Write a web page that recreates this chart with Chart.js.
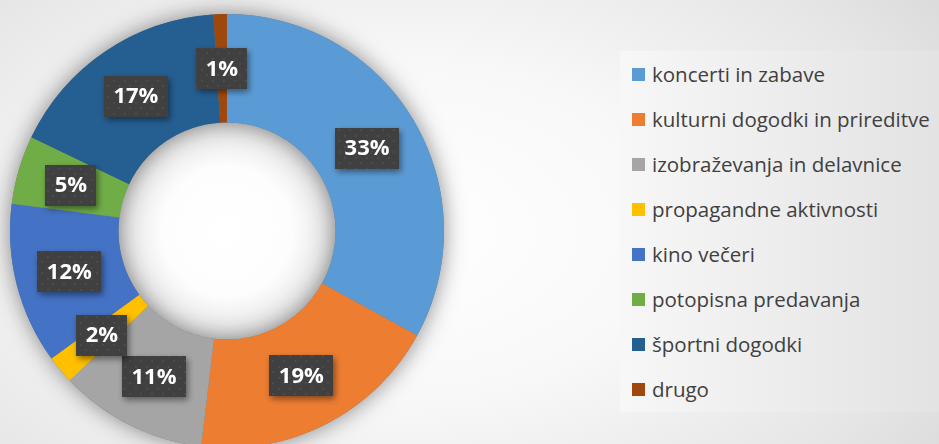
<!DOCTYPE html>
<html>
<head>
<meta charset="utf-8">
<script src="https://cdn.jsdelivr.net/npm/chart.js@4"></script>
<style>
  html, body { margin: 0; padding: 0; }
  body {
    width: 939px; height: 444px; overflow: hidden; position: relative;
    font-family: "Open Sans", sans-serif;
    background: radial-gradient(ellipse 75% 95% at 42% 52%, #ffffff 0%, #f8f8f8 40%, #e6e6e6 78%, #d8d8d8 100%);
  }
  #wrap { position: absolute; left: 0; top: 0; width: 470px; height: 470px; }
  #legend {
    position: absolute; left: 620px; top: 51px; width: 319px; height: 361px;
    background: linear-gradient(90deg, #f7f7f7, #e3e3e3);
  }
  .item {
    position: absolute; left: 12px; height: 28px; display: flex; align-items: center;
    font-size: 20.5px; color: #404040; white-space: nowrap;
  }
  .swatch { width: 13px; height: 13px; margin-right: 7px; flex: none; }
</style>
</head>
<body>
<div id="wrap"><canvas id="donut"></canvas></div>
<div id="legend"></div>
<script>
const categories = [
  'koncerti in zabave',
  'kulturni dogodki in prireditve',
  'izobraževanja in delavnice',
  'propagandne aktivnosti',
  'kino večeri',
  'potopisna predavanja',
  'športni dogodki',
  'drugo'
];
const shares = [33.0, 18.9, 11.0, 2.1, 12.0, 5.1, 16.9, 1.0];
const colors = ['#5B9BD5', '#ED7D31', '#A5A5A5', '#FFC000', '#4472C4', '#70AD47', '#255E91', '#9E480E'];

// legend, built from the same arrays
const legendEl = document.getElementById('legend');
categories.forEach((name, i) => {
  const item = document.createElement('div');
  item.className = 'item';
  item.style.top = (23.3 + 45 * i - 14) + 'px';
  item.innerHTML = '<span class="swatch" style="background:' + colors[i] + '"></span>' + name;
  legendEl.appendChild(item);
});

// dotted dark fill for the value boxes
const patCanvas = document.createElement('canvas');
patCanvas.width = 11; patCanvas.height = 11;
const pctx = patCanvas.getContext('2d');
pctx.fillStyle = '#404040';
pctx.fillRect(0, 0, 11, 11);
pctx.fillStyle = '#4b4b4b';
pctx.fillRect(3, 3, 2, 2);
pctx.fillRect(8, 8, 2, 2);

const ringShadow = {
  id: 'ringShadow',
  beforeDatasetsDraw(chart) {
    const a = chart.getDatasetMeta(0).data[0];
    if (!a) return;
    const ctx = chart.ctx;
    ctx.save();
    // hole: white centre, greyish rim
    const g = ctx.createRadialGradient(a.x, a.y, 0, a.x, a.y, a.innerRadius);
    g.addColorStop(0, '#ffffff');
    g.addColorStop(0.6, '#fdfdfd');
    g.addColorStop(1, '#e2e2e2');
    ctx.beginPath();
    ctx.arc(a.x, a.y, a.innerRadius, 0, Math.PI * 2);
    ctx.fillStyle = g;
    ctx.fill();
    ctx.shadowColor = 'rgba(0,0,0,0.45)';
    ctx.shadowBlur = 22;
    ctx.beginPath();
    ctx.arc(a.x, a.y, a.outerRadius, 0, Math.PI * 2);
    ctx.arc(a.x, a.y, a.innerRadius, 0, Math.PI * 2, true);
    ctx.fillStyle = '#777';
    ctx.fill();
    ctx.restore();
  }
};

const valueBoxes = {
  id: 'valueBoxes',
  afterDatasetsDraw(chart) {
    const ctx = chart.ctx;
    const meta = chart.getDatasetMeta(0);
    const total = shares.reduce((s, v) => s + v, 0);
    const pattern = ctx.createPattern(patCanvas, 'repeat');
    ctx.save();
    ctx.font = 'bold 22px "Open Sans"';
    ctx.textAlign = 'center';
    ctx.textBaseline = 'middle';
    meta.data.forEach((arc, i) => {
      const p = arc.getCenterPoint();
      const txt = Math.round(shares[i] / total * 100) + '%';
      const w = Math.round(ctx.measureText(txt).width + 19);
      const h = 41;
      const x = Math.round(p.x - w / 2), y = Math.round(p.y - h / 2);
      ctx.save();
      ctx.shadowColor = 'rgba(0,0,0,0.45)';
      ctx.shadowBlur = 6;
      ctx.shadowOffsetX = 2;
      ctx.shadowOffsetY = 3;
      ctx.fillStyle = pattern;
      ctx.fillRect(x, y, w, h);
      ctx.restore();
      ctx.fillStyle = '#ffffff';
      ctx.fillText(txt, p.x, p.y + 1);
    });
    ctx.restore();
  }
};

new Chart(document.getElementById('donut'), {
  type: 'doughnut',
  data: {
    labels: categories,
    datasets: [{
      data: shares,
      backgroundColor: colors,
      borderWidth: 0,
      hoverOffset: 0,
      offset: 0
    }]
  },
  options: {
    responsive: true,
    maintainAspectRatio: false,
    animation: false,
    cutout: '50%',
    layout: { padding: { left: 10, right: 26, top: 14, bottom: 22 } },
    plugins: {
      legend: { display: false },
      tooltip: { enabled: false }
    }
  },
  plugins: [ringShadow, valueBoxes]
});
</script>
</body>
</html>
